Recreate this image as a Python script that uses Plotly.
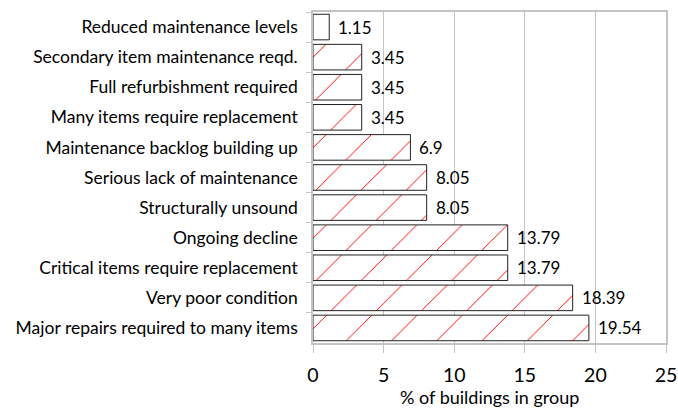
import plotly.graph_objects as go

# Building condition issues, listed top to bottom as displayed
categories = [
    "Reduced maintenance levels",
    "Secondary item maintenance reqd.",
    "Full refurbishment required",
    "Many items require replacement",
    "Maintenance backlog building up",
    "Serious lack of maintenance",
    "Structurally unsound",
    "Ongoing decline",
    "Critical items require replacement",
    "Very poor condition",
    "Major repairs required to many items",
]
values = [1.15, 3.45, 3.45, 3.45, 6.9, 8.05, 8.05, 13.79, 13.79, 18.39, 19.54]
value_labels = ["1.15", "3.45", "3.45", "3.45", "6.9", "8.05", "8.05",
                "13.79", "13.79", "18.39", "19.54"]
x_ticks = [0, 5, 10, 15, 20, 25]
x_title = "% of buildings in group"

FONT = "Lato, 'DejaVu Sans', sans-serif"
GRID = "#c4c4c4"

fig = go.Figure()
fig.add_trace(go.Bar(
    x=values,
    y=categories,
    orientation="h",
    width=0.85,
    marker=dict(
        color="white",
        line=dict(color="#222222", width=1),
        pattern=dict(shape="/", fgcolor="#ff0000", bgcolor="white",
                     fgopacity=1, size=32, solidity=0.03,
                     fillmode="overlay"),
    ),
    hoverinfo="skip",
))

# value labels to the right of each bar
for v, lab, cat in zip(values, value_labels, categories):
    fig.add_annotation(
        x=v, y=cat, text=lab, showarrow=False,
        xanchor="left", yanchor="middle", xshift=7,
        font=dict(family=FONT, size=17, color="black"),
    )

# axis title placed below the tick labels
fig.add_annotation(
    x=0.5, y=0, xref="paper", yref="paper", text=x_title,
    showarrow=False, xanchor="center", yanchor="middle", yshift=-54,
    font=dict(family=FONT, size=18, color="black"),
)

fig.update_layout(
    width=678, height=408,
    margin=dict(l=313, r=12, t=12, b=65),
    paper_bgcolor="white", plot_bgcolor="white",
    showlegend=False,
    font=dict(family=FONT, color="black"),
    bargap=0.15,
)
fig.update_xaxes(
    range=[0, 25],
    tickvals=x_ticks,
    ticktext=[str(t) for t in x_ticks],
    showgrid=True, gridcolor=GRID, gridwidth=1,
    zeroline=False,
    showline=True, linecolor=GRID, linewidth=1.5, mirror=True,
    ticks="outside", ticklen=8, tickcolor=GRID, tickwidth=1,
    ticklabelstandoff=6,
    automargin=False,
    tickfont=dict(family=FONT, size=19.5, color="black"),
)
fig.update_yaxes(
    type="category",
    autorange="reversed",
    tickson="boundaries",
    ticks="outside", ticklen=5, tickcolor=GRID,
    showline=True, linecolor=GRID, linewidth=1.5, mirror=True,
    showgrid=False,
    ticklabelstandoff=10,
    automargin=False,
    tickfont=dict(family=FONT, size=17.5, color="black"),
)

fig.write_html("out.html")
